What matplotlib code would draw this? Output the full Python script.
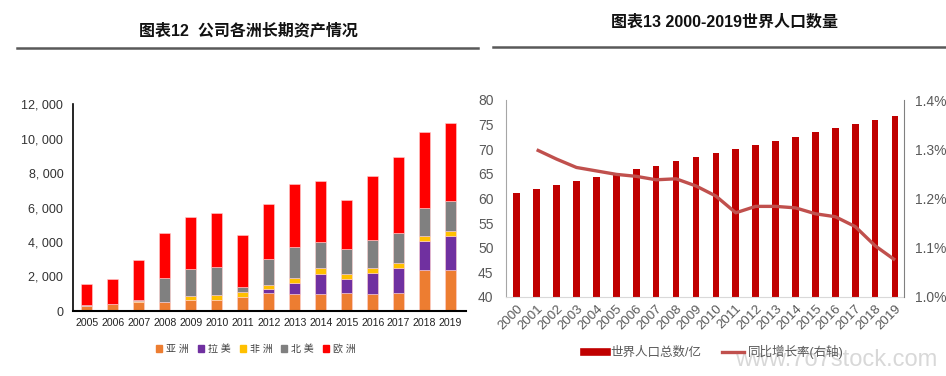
import matplotlib
matplotlib.use("Agg")
import matplotlib.pyplot as plt
from matplotlib.lines import Line2D
from matplotlib.patches import Patch
import numpy as np

plt.rcParams['font.family'] = ['Liberation Sans', 'Noto Sans CJK SC', 'DejaVu Sans']

# ---- 左图：公司各洲长期资产 ----
years_l = ["2005", "2006", "2007", "2008", "2009", "2010", "2011", "2012",
           "2013", "2014", "2015", "2016", "2017", "2018", "2019"]
asia = [270, 410, 545, 545, 625, 645, 820, 1070, 990, 990, 1030, 990, 1030, 2400, 2400]
latam = [0, 0, 0, 0, 0, 0, 0, 210, 640, 1180, 830, 1240, 1490, 1650, 1960]
africa = [40, 10, 30, 0, 235, 270, 290, 235, 310, 330, 270, 250, 250, 270, 290]
namer = [20, 10, 45, 1345, 1600, 1620, 255, 1495, 1785, 1515, 1460, 1630, 1730, 1670, 1710]
europe = [1210, 1400, 2340, 2650, 2980, 3120, 3065, 3200, 3665, 3550, 2870, 3730, 4400, 4385, 4535]
regions = ["亚洲", "拉美", "非洲", "北美", "欧洲"]
region_colors = ["#ED7D31", "#7030A0", "#FFC000", "#808080", "#FF0000"]

# ---- 右图：世界人口 ----
years_r = [str(y) for y in range(2000, 2020)]
population = [61.2, 62.0, 62.75, 63.55, 64.4, 65.1, 66.0, 66.7, 67.6, 68.4,
              69.25, 70.05, 70.87, 71.75, 72.56, 73.44, 74.26, 75.2, 75.95, 76.83]
growth_years = years_r[1:]
growth = [1.299, 1.28, 1.263, 1.256, 1.249, 1.245, 1.238, 1.240, 1.2255,
          1.205, 1.171, 1.184, 1.184, 1.181, 1.169, 1.163, 1.143, 1.104, 1.075]

W, H = 946, 376
fig = plt.figure(figsize=(W / 100, H / 100), dpi=100)

def fx(px):
    return px / W

def fy(py):
    return 1 - py / H

# 标题
fig.text(fx(248), fy(31), "图表12  公司各洲长期资产情况", ha="center", va="center",
         fontsize=11.5, fontweight="bold", color="#111111")
fig.text(fx(724), fy(22), "图表13 2000-2019世界人口数量", ha="center", va="center",
         fontsize=11.5, fontweight="bold", color="#111111")
fig.add_artist(Line2D([fx(17), fx(478)], [fy(47.5), fy(47.5)], color="#595959", lw=1.8))
fig.add_artist(Line2D([fx(493), fx(946)], [fy(47), fy(47)], color="#595959", lw=1.8))

# 左图
ax1 = fig.add_axes([fx(73), fy(311), fx(466) - fx(73), fy(104) - fy(311)])
x = np.arange(len(years_l))
bottom = np.zeros(len(years_l))
for name, vals, c in zip(regions, [asia, latam, africa, namer, europe], region_colors):
    ax1.bar(x, vals, width=0.41, bottom=bottom, color=c, label=name,
            edgecolor="#FFD0D0", linewidth=0.4)
    bottom += np.array(vals)
ax1.set_xlim(-0.53, 14.59)
ax1.set_ylim(0, 12000)
ax1.set_yticks(range(0, 12001, 2000))
ax1.set_yticklabels([f"{v:,}".replace(",", ", ") for v in range(0, 12001, 2000)])
ax1.set_xticks(x)
ax1.set_xticklabels(years_l)
ax1.tick_params(axis="y", length=0, pad=7, labelsize=9, labelcolor="#333333")
ax1.tick_params(axis="x", length=0, pad=5, labelsize=7.6, labelcolor="#222222")
for s in ["top", "right"]:
    ax1.spines[s].set_visible(False)
ax1.spines["left"].set_color("black")
ax1.spines["bottom"].set_color("black")
ax1.spines["left"].set_linewidth(1.2)
ax1.spines["bottom"].set_linewidth(1.5)

handles = [Patch(color=c) for c in region_colors]
fig.legend(handles, [" ".join(r) for r in regions], loc="center",
           bbox_to_anchor=(fx(256), fy(349)), ncol=5, frameon=False,
           fontsize=7.2, handlelength=0.6, handleheight=0.6, handletextpad=0.4,
           columnspacing=0.9, labelcolor="#404040")

# 右图
ax2 = fig.add_axes([fx(506), fy(297), fx(904) - fx(506), fy(100) - fy(297)])
xr = np.arange(len(years_r))
ax2.bar(xr, population, width=0.335, color="#C00000")
ax2.set_xlim(-0.54, 19.45)
ax2.set_ylim(40, 80)
ax2.set_yticks(range(40, 81, 5))
ax2.set_xticks(xr)
ax2.set_xticklabels(years_r, rotation=45, ha="right", rotation_mode="anchor")
ax2.tick_params(axis="y", length=0, pad=9, labelsize=10, labelcolor="#595959")
ax2.tick_params(axis="x", length=0, pad=4, labelsize=9.5, labelcolor="#595959")
ax2.spines["top"].set_visible(False)
ax2.spines["right"].set_visible(False)
ax2.spines["left"].set_color("#A6A6A6")
ax2.spines["bottom"].set_color("#D9D9D9")

ax3 = ax2.twinx()
ax3.plot(np.arange(1, len(years_r)), growth, color="#C0504D", lw=2.4,
         solid_capstyle="butt")
ax3.set_ylim(1.0, 1.4)
ax3.set_yticks([1.0, 1.1, 1.2, 1.3, 1.4])
ax3.set_yticklabels([f"{v:.1f}%" for v in [1.0, 1.1, 1.2, 1.3, 1.4]])
ax3.tick_params(axis="y", length=0, pad=8, labelsize=10, labelcolor="#595959")
for s in ["top", "left", "bottom"]:
    ax3.spines[s].set_visible(False)
ax3.spines["right"].set_color("#808080")

h2 = [Line2D([0], [0], color="#C00000", lw=5.5),
      Line2D([0], [0], color="#C0504D", lw=2.4)]
fig.legend(h2, ["世界人口总数/亿", "同比增长率(右轴)"], loc="center",
           bbox_to_anchor=(fx(714), fy(352)), ncol=2, frameon=False,
           fontsize=9, handlelength=1.8, handletextpad=0.3,
           columnspacing=1.6, labelcolor="#595959")

# 水印
fig.text(fx(836), fy(360), "www.7o7stock.com", ha="center", va="center",
         fontsize=17, color="#C8C8C8", alpha=0.7)

fig.savefig("out.png", dpi=100)
